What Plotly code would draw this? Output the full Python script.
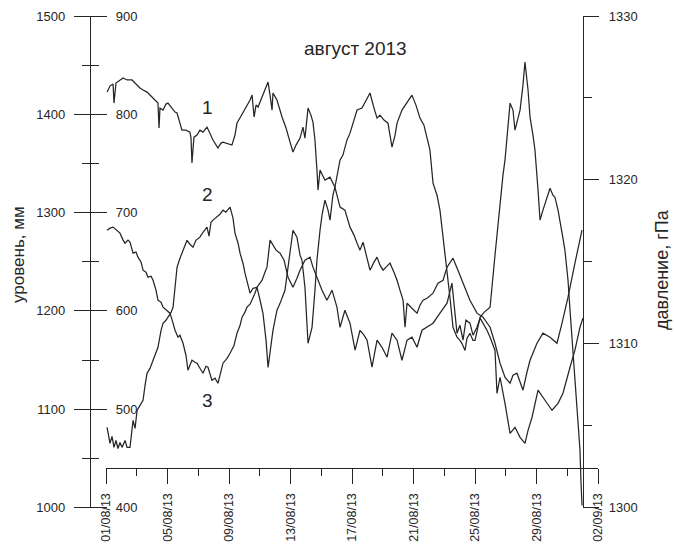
import pandas as pd
import plotly.graph_objects as go

# ---- data -------------------------------------------------------------
# time is counted in days from 01.08.2013 00:00
start = pd.Timestamp("2013-08-01")

# curve 1: sea level, mm (outer left scale 1000-1500)
c1_day = [0.07, 0.26, 0.46, 0.52, 0.65, 0.91, 1.11, 1.37, 1.69, 1.95, 2.21, 2.41, 2.67, 2.86, 3.06,
          3.25, 3.38, 3.45, 3.51, 3.71, 3.90, 4.03, 4.29, 4.49, 4.62, 4.81, 4.94, 5.20, 5.46, 5.53,
          5.59, 5.72, 5.92, 6.11, 6.31, 6.57, 6.76, 6.96, 7.28, 7.48, 7.61, 7.93, 8.19, 8.39, 8.52,
          8.71, 8.91, 9.17, 9.37, 9.50, 9.63, 9.76, 9.89, 10.15, 10.34, 10.54, 10.67, 10.80, 10.86,
          11.12, 11.45, 11.71, 11.97, 12.16, 12.36, 12.62, 12.81, 12.94, 13.14, 13.33, 13.46, 13.59,
          13.72, 13.79, 13.92, 14.24, 14.57, 14.89, 15.22, 15.54, 15.87, 16.13, 16.33, 16.52, 16.72,
          16.98, 17.17, 17.43, 17.63, 17.82, 18.02, 18.28, 18.47, 18.73, 18.93, 19.12, 19.32, 19.45,
          19.58, 19.90, 20.23, 20.42, 20.62, 20.88, 21.27, 21.59, 21.92, 22.18, 22.57, 22.89, 23.22,
          23.67, 24.13, 24.52, 24.98, 25.30, 25.63, 25.95, 26.28, 26.47, 26.73, 26.93, 27.12, 27.38,
          27.58, 28.03, 28.42, 28.88, 29.33, 29.66, 30.05, 30.50, 30.96]
c1_level = [1422.6, 1428.7, 1430.8, 1411.4, 1431.8, 1434.9, 1436.9, 1434.9, 1434.9, 1430.8, 1426.7,
            1424.7, 1422.6, 1419.6, 1416.5, 1413.5, 1411.4, 1386.0, 1406.3, 1404.3, 1410.4, 1411.4,
            1406.3, 1402.3, 1401.3, 1390.1, 1383.9, 1383.9, 1381.9, 1375.8, 1350.4, 1376.8, 1378.9,
            1383.9, 1381.9, 1387.0, 1379.9, 1373.8, 1365.6, 1370.7, 1371.7, 1369.7, 1368.7, 1378.9,
            1391.1, 1396.2, 1401.3, 1409.4, 1414.5, 1419.6, 1397.2, 1409.4, 1407.4, 1417.5, 1424.7,
            1432.8, 1419.6, 1404.3, 1421.6, 1414.5, 1397.2, 1386.0, 1371.7, 1361.6, 1368.7, 1375.8,
            1387.0, 1375.8, 1406.3, 1399.2, 1392.1, 1373.8, 1343.2, 1322.9, 1343.2, 1333.0, 1336.1,
            1325.9, 1305.6, 1302.5, 1285.2, 1277.1, 1268.9, 1261.8, 1269.9, 1253.6, 1241.4, 1249.6,
            1254.7, 1246.5, 1241.4, 1245.5, 1248.6, 1239.4, 1231.2, 1221.1, 1210.9, 1183.4, 1207.8,
            1202.7, 1197.7, 1205.8, 1210.9, 1212.9, 1218.0, 1228.2, 1231.2, 1244.5, 1253.6, 1241.4,
            1228.2, 1210.9, 1197.7, 1193.6, 1183.4, 1167.1, 1146.8, 1132.5, 1126.4, 1134.5, 1136.6,
            1127.4, 1119.3, 1137.6, 1149.8, 1167.1, 1177.3, 1173.2, 1167.1, 1187.5, 1213.9, 1248.6,
            1282.2]

# curve 2: atmospheric pressure (right scale)
c2_day = [0.07, 0.20, 0.26, 0.39, 0.52, 0.65, 0.78, 0.91, 1.04, 1.24, 1.37, 1.56, 1.76, 1.89, 2.02,
          2.21, 2.41, 2.54, 2.67, 2.86, 3.06, 3.25, 3.38, 3.58, 3.71, 3.90, 4.03, 4.23, 4.36, 4.49,
          4.62, 4.81, 4.94, 5.14, 5.27, 5.46, 5.66, 5.85, 6.11, 6.31, 6.57, 6.70, 6.83, 6.96, 7.22,
          7.41, 7.61, 7.80, 8.07, 8.26, 8.39, 8.59, 8.72, 8.91, 9.04, 9.24, 9.37, 9.56, 9.82, 10.02,
          10.21, 10.41, 10.54, 10.73, 10.86, 11.12, 11.32, 11.64, 11.97, 12.16, 12.42, 12.62, 12.75,
          12.94, 13.14, 13.40, 13.59, 13.72, 13.92, 14.05, 14.24, 14.44, 14.57, 14.76, 14.89, 15.22,
          15.41, 15.67, 15.87, 16.13, 16.33, 16.65, 16.91, 17.17, 17.43, 17.63, 17.82, 18.08, 18.34,
          18.60, 18.80, 18.93, 19.25, 19.58, 19.90, 20.16, 20.42, 20.68, 20.88, 21.07, 21.27, 21.53,
          21.72, 21.92, 22.05, 22.24, 22.37, 22.57, 22.83, 23.02, 23.15, 23.35, 23.48, 23.67, 23.87,
          24.00, 24.20, 24.33, 24.59, 24.78, 24.98, 25.30, 25.63, 25.82, 25.95, 26.15, 26.28, 26.47,
          26.60, 26.80, 26.93, 27.12, 27.25, 27.45, 27.58, 27.77, 27.90, 28.10, 28.23, 28.42, 28.55,
          28.75, 28.88, 29.07, 29.20, 29.40, 29.53, 29.72, 29.85, 30.05, 30.18, 30.37, 30.50, 30.70,
          30.83, 30.89, 30.96]
c2_pressure = [1304.89, 1304.09, 1303.91, 1304.34, 1303.67, 1304.09, 1303.60, 1303.97, 1303.67,
               1304.09, 1303.67, 1303.67, 1305.32, 1304.83, 1305.93, 1306.23, 1306.54, 1307.45,
               1308.19, 1308.49, 1308.98, 1309.47, 1309.78, 1310.81, 1311.24, 1311.43, 1311.61,
               1311.91, 1312.22, 1313.26, 1314.66, 1315.21, 1315.52, 1316.01, 1316.31, 1316.07,
               1315.89, 1316.31, 1316.50, 1316.80, 1317.11, 1316.56, 1317.41, 1317.54, 1317.72,
               1317.90, 1318.15, 1318.02, 1318.33, 1317.66, 1316.74, 1316.13, 1315.52, 1314.91,
               1314.30, 1313.56, 1313.08, 1313.38, 1313.44, 1312.65, 1311.85, 1310.20, 1308.55,
               1309.90, 1310.81, 1312.04, 1312.46, 1313.26, 1315.70, 1316.92, 1316.50, 1315.40,
               1315.09, 1313.44, 1310.02, 1311.00, 1313.26, 1315.09, 1316.92, 1317.84, 1318.76,
               1318.15, 1317.54, 1319.06, 1319.55, 1321.20, 1321.51, 1322.42, 1322.85, 1323.65,
               1324.26, 1324.38, 1324.87, 1325.30, 1324.38, 1323.77, 1323.95, 1323.65, 1323.46,
               1322.00, 1322.73, 1323.46, 1324.26, 1324.75, 1325.17, 1324.56, 1323.77, 1323.34,
               1322.61, 1321.81, 1319.80, 1319.06, 1318.15, 1316.62, 1315.27, 1313.87, 1312.83,
               1311.00, 1310.39, 1310.20, 1310.02, 1309.59, 1310.33, 1310.63, 1310.20, 1310.20,
               1311.12, 1311.61, 1311.91, 1312.04, 1312.22, 1315.40, 1318.76, 1320.29, 1321.20,
               1323.34, 1324.68, 1324.26, 1323.03, 1323.77, 1324.26, 1325.78, 1327.19, 1325.48,
               1323.83, 1322.73, 1321.81, 1319.37, 1317.54, 1318.15, 1318.57, 1319.19, 1319.49,
               1319.06, 1318.94, 1318.15, 1317.35, 1316.44, 1315.70, 1313.87, 1312.04, 1309.59,
               1307.58, 1305.32, 1303.48, 1301.65, 1300.12]

# curve 3: sea level, mm (inner left scale 400-900)
c3_day = [0.07, 0.26, 0.46, 0.72, 0.91, 1.11, 1.24, 1.43, 1.56, 1.76, 1.95, 2.08, 2.28, 2.41, 2.60,
          2.73, 2.93, 3.06, 3.25, 3.38, 3.58, 3.71, 3.97, 4.16, 4.36, 4.49, 4.68, 4.81, 5.01, 5.20,
          5.33, 5.46, 5.59, 5.79, 5.92, 6.11, 6.31, 6.50, 6.63, 6.89, 7.09, 7.28, 7.48, 7.61, 7.87,
          8.07, 8.33, 8.52, 8.72, 8.85, 9.04, 9.17, 9.37, 9.50, 9.69, 9.82, 10.02, 10.15, 10.34,
          10.47, 10.67, 10.86, 11.06, 11.32, 11.58, 11.84, 12.16, 12.42, 12.62, 12.94, 13.27, 13.46,
          13.79, 14.05, 14.37, 14.70, 15.02, 15.22, 15.54, 15.87, 16.20, 16.52, 16.78, 16.98, 17.30,
          17.63, 17.95, 18.28, 18.60, 18.93, 19.25, 19.58, 19.90, 20.23, 20.55, 20.88, 21.27, 21.72,
          22.18, 22.50, 22.70, 22.83, 23.02, 23.22, 23.41, 23.67, 23.87, 24.13, 24.33, 24.52, 24.78,
          24.98, 25.30, 25.43, 25.63, 25.95, 26.28, 26.60, 26.93, 27.25, 27.45, 27.71, 28.10, 28.55,
          29.01, 29.40, 29.72, 30.18, 30.50, 30.83, 31.02]
c3_level = [682.1, 684.2, 685.2, 682.1, 679.1, 672.0, 668.9, 672.0, 669.9, 658.7, 659.8, 654.7,
            649.6, 641.4, 639.4, 634.3, 635.3, 631.2, 621.1, 610.9, 608.9, 603.8, 600.7, 597.7,
            587.5, 580.3, 573.2, 575.3, 567.1, 554.9, 539.6, 544.7, 549.8, 547.8, 546.8, 541.7,
            536.6, 543.7, 542.7, 529.4, 531.5, 526.4, 537.6, 546.8, 551.8, 556.9, 565.1, 577.3,
            585.4, 593.6, 598.7, 603.8, 606.8, 610.9, 618.0, 624.1, 628.2, 631.2, 639.4, 644.5,
            672.0, 666.9, 661.8, 658.7, 651.6, 634.3, 624.1, 633.3, 641.4, 651.6, 654.7, 644.5,
            631.2, 621.1, 610.9, 621.1, 603.8, 583.4, 600.7, 587.5, 560.0, 580.3, 575.3, 570.2,
            542.7, 570.2, 563.0, 552.9, 577.3, 570.2, 549.8, 570.2, 573.2, 563.0, 580.3, 583.4,
            587.5, 597.7, 607.8, 628.2, 600.7, 577.3, 585.4, 570.2, 590.5, 587.5, 575.3, 583.4,
            592.6, 587.5, 580.3, 573.2, 560.0, 516.2, 532.5, 506.0, 475.5, 481.6, 471.4, 465.3,
            478.5, 491.8, 519.3, 509.1, 498.9, 506.0, 516.2, 542.7, 560.0, 583.4, 592.6]

x_range = ["2013-08-01", "2013-09-02"]
title_text = "август 2013"
level_title = "уровень, мм"
pressure_title = "давление, гПа"
curve_labels = ["1", "2", "3"]


def to_time(days):
    return start + pd.to_timedelta(days, unit="D")


# ---- figure -----------------------------------------------------------
W, H = 674, 547
INK = "#262626"
FONT = "Liberation Sans, Arial, sans-serif"

fig = go.Figure()
line = dict(color=INK, width=1.25)
fig.add_trace(go.Scatter(x=to_time(c1_day), y=c1_level, mode="lines", line=line,
                         xaxis="x", yaxis="y", showlegend=False))
fig.add_trace(go.Scatter(x=to_time(c3_day), y=c3_level, mode="lines", line=line,
                         xaxis="x", yaxis="y2", showlegend=False))
fig.add_trace(go.Scatter(x=to_time(c2_day), y=c2_pressure, mode="lines", line=line,
                         xaxis="x", yaxis="y3", showlegend=False))

# pixel helpers for placing axes in paper coordinates
px_x = lambda p: p / W
px_y = lambda p: (H - p) / H

y_dom = [px_y(507.5), px_y(16)]
tickfont = dict(family=FONT, size=13, color=INK)

axis_common = dict(showline=True, linecolor=INK, linewidth=1.4, ticks="outside",
                   tickcolor=INK, tickwidth=1.4, showgrid=False, zeroline=False,
                   tickfont=tickfont, automargin=False, domain=y_dom, anchor="free",
                   fixedrange=True)

fig.update_layout(
    width=W, height=H, autosize=False,
    margin=dict(l=0, r=0, t=0, b=0),
    paper_bgcolor="white", plot_bgcolor="rgba(0,0,0,0)",
    font=dict(family=FONT, color=INK),
    xaxis=dict(
        type="date", domain=[px_x(106), px_x(598)], range=x_range,
        anchor="free", position=px_y(468),
        showline=True, linecolor=INK, linewidth=1.4, showgrid=False, zeroline=False,
        ticks="outside", ticklen=15, tickwidth=1.4, tickcolor=INK,
        tick0="2013-08-01", dtick=4 * 86400000, tickformat="%d/%m/%y", tickangle=-90,
        tickfont=dict(family=FONT, size=12.5, color=INK), ticklabelstandoff=4,
        minor=dict(ticks="outside", dtick=2 * 86400000, tick0="2013-08-01",
                   ticklen=7, tickwidth=1.4, tickcolor=INK),
        automargin=False, fixedrange=True,
    ),
    yaxis=dict(axis_common, range=[1000, 1500], dtick=100, side="left",
               position=px_x(90), ticklen=16, ticklabelstandoff=6,
               minor=dict(ticks="outside", dtick=50, ticklen=8, tickwidth=1.4, tickcolor=INK)),
    yaxis2=dict(axis_common, range=[400, 900], dtick=100, side="right",
                overlaying="y", position=px_x(90), ticklen=16, ticklabelstandoff=6,
                minor=dict(ticks="outside", dtick=50, ticklen=8, tickwidth=1.4, tickcolor=INK)),
    yaxis3=dict(axis_common, range=[1300, 1330], dtick=10, side="right",
                overlaying="y", position=px_x(583), ticklen=15, ticklabelstandoff=7,
                minor=dict(ticks="outside", dtick=5, ticklen=8, tickwidth=1.4, tickcolor=INK)),
)

ann = []
ann.append(dict(text=title_text, x=px_x(355), y=px_y(48), font=dict(family=FONT, size=19, color=INK)))
for lab, (ax_, ay_) in zip(curve_labels, [(207, 108), (207, 195), (207, 400)]):
    ann.append(dict(text=lab, x=px_x(ax_), y=px_y(ay_), font=dict(family=FONT, size=19, color=INK)))
ann.append(dict(text=level_title, x=px_x(18), y=px_y(255), textangle=-90,
                font=dict(family=FONT, size=17, color=INK)))
ann.append(dict(text=pressure_title, x=px_x(662), y=px_y(270), textangle=-90,
                font=dict(family=FONT, size=18, color=INK)))
for a in ann:
    a.update(xref="paper", yref="paper", showarrow=False, xanchor="center", yanchor="middle")
fig.update_layout(annotations=ann)

fig.write_html("out.html")
